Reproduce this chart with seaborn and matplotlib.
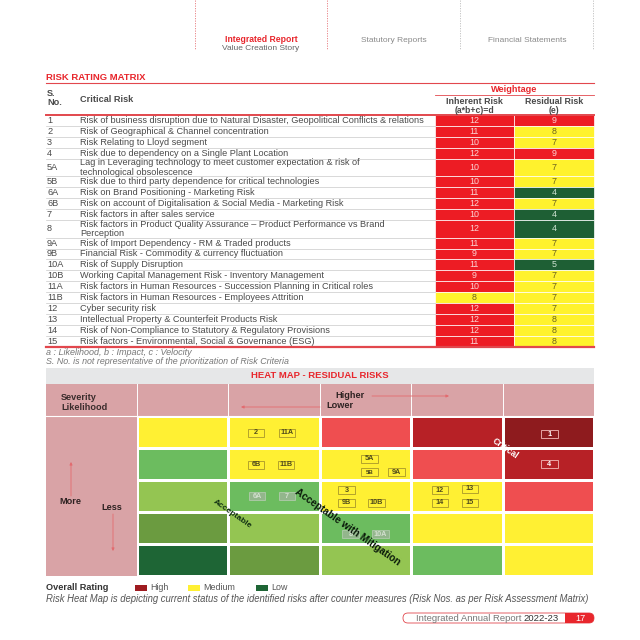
import numpy as np
import pandas as pd
import matplotlib
matplotlib.use("Agg")
import matplotlib.pyplot as plt
import seaborn as sns
from matplotlib.colors import ListedColormap
from matplotlib.patches import Rectangle, FancyBboxPatch

# ---------------- data ----------------
s_no = ["1", "2", "3", "4", "5A", "5B", "6A", "6B", "7", "8", "9A", "9B",
        "10A", "10B", "11A", "11B", "12", "13", "14", "15"]
risks = [
    "Risk of business disruption due to Natural Disaster, Geopolitical Conflicts & relations",
    "Risk of Geographical & Channel concentration",
    "Risk Relating to Lloyd segment",
    "Risk due to dependency on a Single Plant Location",
    "Lag in Leveraging technology to meet customer expectation & risk of\ntechnological obsolescence",
    "Risk due to third party dependence for critical technologies",
    "Risk on Brand Positioning - Marketing Risk",
    "Risk on account of Digitalisation & Social Media - Marketing Risk",
    "Risk factors in after sales service",
    "Risk factors in Product Quality Assurance \u2013 Product Performance vs Brand\nPerception",
    "Risk of Import Dependency - RM & Traded products",
    "Financial Risk - Commodity & currency fluctuation",
    "Risk of Supply Disruption",
    "Working Capital Management Risk - Inventory Management",
    "Risk factors in Human Resources - Succession Planning in Critical roles",
    "Risk factors in Human Resources - Employees Attrition",
    "Cyber security risk",
    "Intellectual Property & Counterfeit Products Risk",
    "Risk of Non-Compliance to Statutory & Regulatory Provisions",
    "Risk factors - Environmental, Social & Governance (ESG)",
]
inherent = [12, 11, 10, 12, 10, 10, 11, 12, 10, 12, 11, 9, 11, 9, 10, 8, 12, 12, 12, 11]
residual = [9, 8, 7, 9, 7, 7, 4, 7, 4, 4, 7, 7, 5, 7, 7, 7, 7, 8, 8, 8]

# heat map zones (0 = lowest ... 7 = highest), rows top->bottom, cols left->right
heat_zone = [
    [4, 4, 5, 6, 7],
    [3, 4, 4, 5, 6],
    [2, 3, 4, 4, 5],
    [1, 2, 3, 4, 4],
    [0, 1, 2, 3, 4],
]
hm_labels = ["2", "11A", "1", "6B", "11B", "5A", "5B", "9A", "4", "6A", "7",
             "3", "9B", "10B", "12", "13", "14", "15", "8", "10A"]
hm_row = [0, 0, 0, 1, 1, 1, 1, 1, 1, 2, 2, 2, 2, 2, 2, 2, 2, 2, 3, 3]
hm_col = [1, 1, 4, 1, 1, 2, 2, 2, 4, 1, 1, 2, 2, 2, 3, 3, 3, 3, 2, 2]

legend_labels = ["High", "Medium", "Low"]
nav_labels = ["Integrated Report", "Statutory Reports", "Financial Statements"]

# ---------------- styles / layout ----------------
RED = "#E8262C"
RED_LINE = "#E2474D"
T_RED, T_YEL, T_GRN = "#ED1C24", "#FFF22D", "#1E5F34"
zone_colors = ["#1E6535", "#6B9B40", "#94C552", "#6CBC5F",
               "#FFF033", "#EF4E50", "#B72126", "#8E1B1E"]
PINK = "#D9A3A6"
TXT = "#4A4A4A"
FONT = ["Liberation Sans", "DejaVu Sans"]
plt.rcParams["font.family"] = FONT

label_offsets = {  # pixel offsets of the risk tags inside their cell
    "2": (-18, 1), "11A": (13, 1), "1": (1, 2),
    "6B": (-18, 1), "11B": (12, 1), "5A": (4, -5), "5B": (4, 8), "9A": (31, 8), "4": (1, 0),
    "6A": (-17, 0), "7": (13, 0), "3": (-19, -6), "9B": (-19, 7), "10B": (11, 7),
    "12": (-17, -6), "13": (13, -7), "14": (-17, 7), "15": (13, 7),
    "8": (-15, 6), "10A": (15, 6),
}

fig = plt.figure(figsize=(6.4, 6.4), dpi=100)
ax = fig.add_axes([0, 0, 1, 1])
ax.set_xlim(0, 640)
ax.set_ylim(640, 0)
ax.axis("off")

# ---------------- page navigation header ----------------
for x, c in [(195, "#E6777B"), (327, "#E6777B"), (460, "#BDBDBD"), (593, "#BDBDBD")]:
    ax.plot([x, x], [0, 50], color=c, lw=0.6, ls=(0, (1.5, 1.5)))
ax.text(261, 40, nav_labels[0], color=RED, fontsize=6.2, fontweight="bold", ha="center", va="center")
ax.text(261, 48.5, "Value Creation Story", color="#666666", fontsize=6.0, ha="center", va="center")
ax.text(394, 40, nav_labels[1], color="#8A8A8A", fontsize=6.0, ha="center", va="center")
ax.text(527, 40, nav_labels[2], color="#8A8A8A", fontsize=6.0, ha="center", va="center")

# ---------------- risk rating matrix ----------------
ax.text(46, 77, "RISK RATING MATRIX", color=RED, fontsize=6.8, fontweight="bold", va="center")
ax.plot([46, 594], [83, 83], color=RED_LINE, lw=0.8)
ax.text(47, 93, "S.", color=TXT, fontsize=6.6, fontweight="bold", va="center")
ax.text(47, 102.5, "No.", color=TXT, fontsize=6.6, fontweight="bold", va="center")
ax.text(80, 99, "Critical Risk", color=TXT, fontsize=6.6, fontweight="bold", va="center")
ax.text(514.5, 89.5, "Weightage", color=RED, fontsize=6.6, fontweight="bold", ha="center", va="center")
ax.plot([435, 594], [95, 95], color=RED_LINE, lw=0.6)
ax.text(474.5, 101.5, "Inherent Risk", color=TXT, fontsize=6.4, fontweight="bold", ha="center", va="center")
ax.text(474.5, 110.5, "(a*b+c)=d", color=TXT, fontsize=6.2, fontweight="bold", ha="center", va="center")
ax.text(554, 101.5, "Residual Risk", color=TXT, fontsize=6.4, fontweight="bold", ha="center", va="center")
ax.text(554, 110.5, "(e)", color=TXT, fontsize=6.2, fontweight="bold", ha="center", va="center")

n_lines = np.array([t.count("\n") + 1 for t in risks])
row_h = np.where(n_lines > 1, 17.7, 10.9)
edges = 115 + np.concatenate([[0], np.cumsum(row_h)])
centers = (edges[:-1] + edges[1:]) / 2


def rate_color(v):
    return T_RED if v >= 9 else (T_YEL if v >= 6 else T_GRN)


def num_color(v):
    return "#FBD3D3" if v >= 9 else ("#6B6320" if v >= 6 else "#CFE3D2")


ax.barh(centers, 79, left=435, height=row_h, color=[rate_color(v) for v in inherent],
        edgecolor="white", linewidth=0.5)
ax.barh(centers, 80, left=514, height=row_h, color=[rate_color(v) for v in residual],
        edgecolor="white", linewidth=0.5)
for e in edges[1:-1]:
    ax.plot([46, 435], [e, e], color="#C9C9C9", lw=0.5)
for yc, sn, txt, vi, vr in zip(centers, s_no, risks, inherent, residual):
    ax.text(47, yc, sn, color=TXT, fontsize=6.6, va="center")
    ax.text(80, yc, txt, color=TXT, fontsize=6.6, va="center", linespacing=1.02)
    ax.text(474.5, yc, str(vi), color=num_color(vi), fontsize=6.4, ha="center", va="center")
    ax.text(554, yc, str(vr), color=num_color(vr), fontsize=6.4, ha="center", va="center")
ax.plot([46, 594], [edges[0], edges[0]], color=RED_LINE, lw=1.4)
ax.plot([46, 594], [edges[-1], edges[-1]], color=RED_LINE, lw=1.6)
ax.text(46, 352.5, "a : Likelihood, b : Impact, c : Velocity", color="#777777",
        fontsize=6.5, style="italic", va="center")
ax.text(46, 361.5, "S. No. is not representative of the prioritization of Risk Criteria",
        color="#777777", fontsize=6.4, style="italic", va="center")

# ---------------- heat map ----------------
HM_L, HM_T, HM_R, HM_B = 137, 416, 594, 576
colw = (HM_R - HM_L) / 5
rowh = (HM_B - HM_T) / 5
ax.add_patch(Rectangle((46, 368), 548, 16, fc="#E6E7E8", ec="none"))
ax.text(320, 376, "HEAT MAP - RESIDUAL RISKS", color=RED, fontsize=6.8, fontweight="bold",
        ha="center", va="center")
ax.add_patch(Rectangle((46, 384), 548, 32, fc=PINK, ec="none"))
ax.add_patch(Rectangle((46, 416), HM_L - 46, HM_B - 416, fc=PINK, ec="none"))
for k in range(6):
    ax.plot([HM_L + k * colw] * 2, [384, 416], color="white", lw=0.7)
ax.plot([46, 594], [416, 416], color="white", lw=0.8)
ax.text(61, 398, "Severity", color="#3A2C2C", fontsize=6.6, fontweight="bold", va="center")
ax.text(61, 408, "Likelihood", color="#3A2C2C", fontsize=6.6, fontweight="bold", va="center")
ax.text(335, 395, "Higher", color="#2E2222", fontsize=6.6, fontweight="bold", va="center")
ax.text(326, 405.5, "Lower", color="#2E2222", fontsize=6.6, fontweight="bold", va="center")
arr = dict(arrowstyle="-|>", color="#E36A6E", lw=0.6, mutation_scale=4, shrinkA=0, shrinkB=0)
ax.annotate("", xy=(449, 396), xytext=(372, 396), arrowprops=arr)
ax.annotate("", xy=(241, 407), xytext=(320, 407), arrowprops=arr)
ax.annotate("", xy=(71, 462), xytext=(71, 496), arrowprops=arr)
ax.annotate("", xy=(113, 551), xytext=(113, 514), arrowprops=arr)
ax.text(70, 502, "More", color="#2E2222", fontsize=6.6, fontweight="bold", ha="center", va="center")
ax.text(112, 507, "Less", color="#2E2222", fontsize=6.6, fontweight="bold", ha="center", va="center")

hax = fig.add_axes([HM_L / 640, 1 - HM_B / 640, (HM_R - HM_L) / 640, (HM_B - HM_T) / 640])
sns.heatmap(pd.DataFrame(heat_zone), cmap=ListedColormap(zone_colors), vmin=-0.5,
            vmax=len(zone_colors) - 0.5, cbar=False, linewidths=0.8, linecolor="white",
            xticklabels=False, yticklabels=False, ax=hax)
hax.set_xlabel("")
hax.set_ylabel("")

bw, bh = 16.5 / colw, 8.5 / rowh
for lab, r, c in zip(hm_labels, hm_row, hm_col):
    dx, dy = label_offsets[lab]
    cx, cy = c + 0.5 + dx / colw, r + 0.5 + dy / rowh
    z = heat_zone[r][c]
    if z == 4:
        fc, ec, tc, al = "none", "#A8972A", "#4F4A1C", 1
    elif z >= 5:
        fc, ec, tc, al = "none", "#F3B9B9", "white", 1
    else:
        fc, ec, tc, al = "#9AB595", "#B9CEB5", "#D3DFCF", 0.85
    hax.add_patch(Rectangle((cx - bw / 2, cy - bh / 2), bw, bh, fc=fc, ec=ec, lw=0.6, alpha=al, zorder=3))
    hax.text(cx, cy, lab, color=tc, fontsize=4.4 if lab == "5B" else 5.2, fontweight="bold",
             ha="center", va="center", zorder=4)

hax.text((505 - HM_L) / colw, (448 - HM_T) / rowh, "Critical", color="white", fontsize=6.2,
         fontweight="bold", rotation=-35, ha="center", va="center", zorder=5)
hax.text((232 - HM_L) / colw, (514 - HM_T) / rowh, "Acceptable", color="#0F2E12", fontsize=6.0,
         fontweight="bold", rotation=-35, ha="center", va="center", zorder=5)
hax.text((348 - HM_L) / colw, (527 - HM_T) / rowh, "Acceptable with Mitigation", color="#0A1A0A",
         fontsize=7.2, fontweight="bold", rotation=-35, ha="center", va="center", zorder=5)

# ---------------- legend ----------------
ax.text(46, 587.5, "Overall Rating", color="#333333", fontsize=6.6, fontweight="bold", va="center")
for (x0, col), lab in zip([(135, "#9E1B20"), (188, "#FFF033"), (256, "#1E6535")], legend_labels):
    ax.add_patch(Rectangle((x0, 584.5), 12, 6, fc=col, ec="none"))
    ax.text(x0 + 15, 587.5, lab, color="#555555", fontsize=6.4, va="center")
ax.text(46, 598.5, "Risk Heat Map is depicting current status of the identified risks after counter "
        "measures (Risk Nos. as per Risk Assessment Matrix)", color="#555555", fontsize=6.85,
        style="italic", va="center")

# ---------------- footer ----------------
ax.add_patch(FancyBboxPatch((403, 613), 191, 10, boxstyle="round,pad=0,rounding_size=5",
                            fc="white", ec=RED_LINE, lw=0.6))
ax.add_patch(FancyBboxPatch((565, 613), 29, 10, boxstyle="round,pad=0,rounding_size=5",
                            fc=RED, ec="none"))
ax.add_patch(Rectangle((565, 613), 8, 10, fc=RED, ec="none"))
ax.text(416, 618.3, "Integrated Annual Report", color="#777777", fontsize=6.8, va="center")
ax.text(559, 618.3, "2022-23", color="#333333", fontsize=6.8, ha="right", va="center")
ax.text(580, 618.3, "17", color="white", fontsize=6.6, ha="center", va="center")

fig.savefig("out.png", dpi=100, facecolor="white")
